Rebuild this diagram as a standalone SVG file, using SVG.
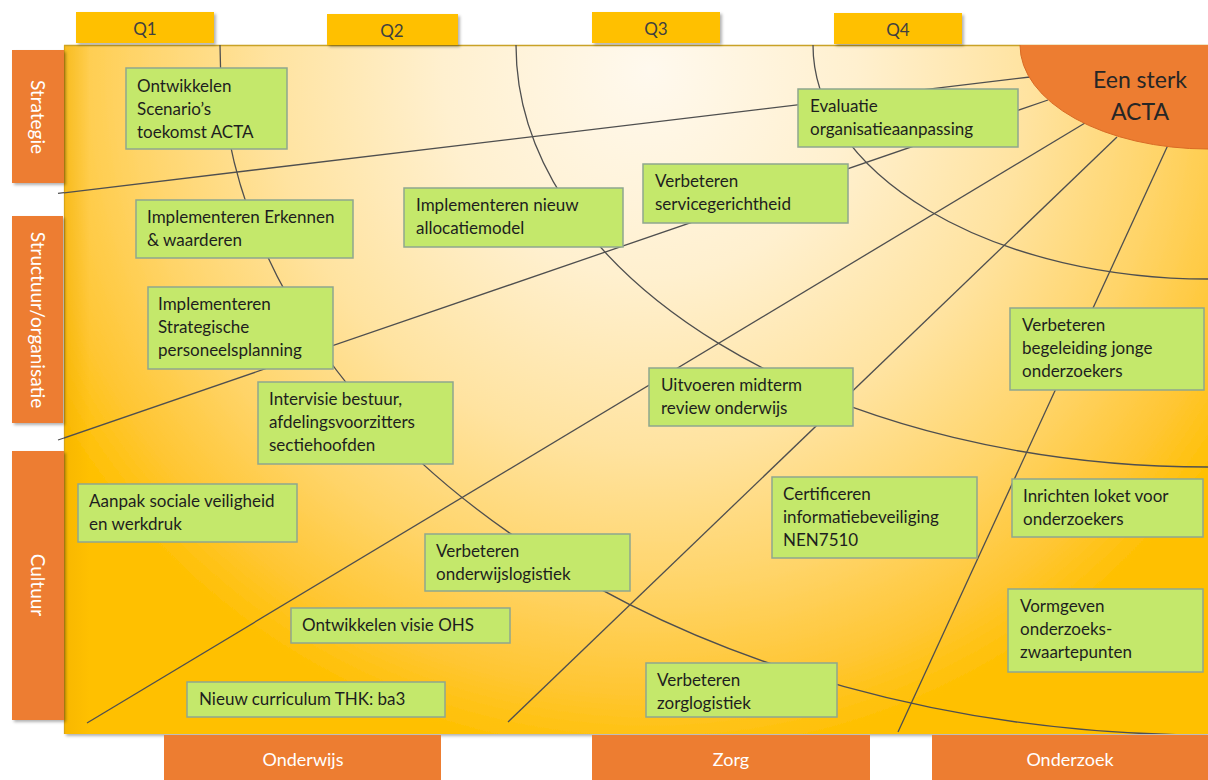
<svg xmlns="http://www.w3.org/2000/svg" width="1208" height="780" viewBox="0 0 1208 780">
<defs>
<radialGradient id="bg" gradientUnits="userSpaceOnUse" cx="650" cy="70" r="690">
<stop offset="0" stop-color="#FFF9EE"/>
<stop offset="0.3" stop-color="#FFF0CF"/>
<stop offset="0.55" stop-color="#FFE3A0"/>
<stop offset="0.75" stop-color="#FFD468"/>
<stop offset="0.9" stop-color="#FFC633"/>
<stop offset="1" stop-color="#FFC000"/>
</radialGradient>
<linearGradient id="leftEdge" x1="0" y1="0" x2="1" y2="0">
<stop offset="0" stop-color="#F2B000" stop-opacity="0.55"/>
<stop offset="1" stop-color="#F2B000" stop-opacity="0"/>
</linearGradient>
<clipPath id="panelClip"><rect x="64" y="45" width="1144" height="689"/></clipPath>
<filter id="sh" x="-10%" y="-10%" width="130%" height="140%">
<feDropShadow dx="2" dy="2" stdDeviation="1.5" flood-color="#000" flood-opacity="0.3"/>
</filter>
</defs>
<style>
.q{fill:#FFC000}
.qt{font-family:Lato,"Liberation Sans",sans-serif;font-size:17px;fill:#404040;text-anchor:middle}
.tab{fill:#ED7D31}
.tt{font-family:Lato,"Liberation Sans",sans-serif;font-size:19px;fill:#FFFFFF;text-anchor:middle}
.bt{font-family:Lato,"Liberation Sans",sans-serif;font-size:18px;fill:#FFFFFF;text-anchor:middle}
.box{fill:#C4E86B;stroke:#8FA68F;stroke-width:1.5}
.bx{font-family:Lato,"Liberation Sans",sans-serif;font-size:17px;fill:#1E1E1E}
.ln{fill:none;stroke:#4F4F4F;stroke-width:1.3}
.acta{font-family:Lato,"Liberation Sans",sans-serif;font-size:23px;fill:#262626;text-anchor:middle}
</style>

<!-- panel -->
<g id="panel">
<rect x="64" y="45" width="1144" height="689" fill="url(#bg)" filter="url(#sh)"/>
<rect x="64" y="45" width="26" height="689" fill="url(#leftEdge)"/>
<line x1="64" y1="45.5" x2="1208" y2="45.5" stroke="#C9A227" stroke-width="1.5"/>
<line x1="64.5" y1="45" x2="64.5" y2="734" stroke="#D9A514" stroke-width="1.2"/>
</g>

<!-- quarter tabs -->
<g id="q1"><rect class="q" x="76" y="12" width="138" height="31" filter="url(#sh)"/><text class="qt" x="145" y="35">Q1</text></g>
<g id="q2"><rect class="q" x="327" y="14" width="131" height="31" filter="url(#sh)"/><text class="qt" x="392" y="37">Q2</text></g>
<g id="q3"><rect class="q" x="592" y="12" width="128" height="31" filter="url(#sh)"/><text class="qt" x="656" y="35">Q3</text></g>
<g id="q4"><rect class="q" x="834" y="13" width="128" height="31" filter="url(#sh)"/><text class="qt" x="898" y="36">Q4</text></g>

<!-- left tabs -->
<g id="strategie"><rect class="tab" x="12" y="50" width="52" height="133" filter="url(#sh)"/><text class="tt" transform="translate(38,117) rotate(90)" dominant-baseline="central">Strategie</text></g>
<g id="structuur"><rect class="tab" x="12" y="216" width="51" height="207" filter="url(#sh)"/><text class="tt" transform="translate(38,320) rotate(90)" dominant-baseline="central">Structuur/organisatie</text></g>
<g id="cultuur"><rect class="tab" x="12" y="451" width="52" height="269" filter="url(#sh)"/><text class="tt" transform="translate(38,585) rotate(90)" dominant-baseline="central">Cultuur</text></g>

<!-- bottom tabs -->
<g id="onderwijs"><rect class="tab" x="164" y="735" width="277" height="45"/><text class="bt" x="303" y="766">Onderwijs</text></g>
<g id="zorg"><rect class="tab" x="592" y="735" width="278" height="45"/><text class="bt" x="731" y="766">Zorg</text></g>
<g id="onderzoek"><rect class="tab" x="932" y="735" width="276" height="45"/><text class="bt" x="1070" y="766">Onderzoek</text></g>

<!-- connectors -->
<g id="connectors" clip-path="url(#panelClip)">
<path class="ln" d="M 813 45 A 395 234 0 0 0 1208 279"/>
<path class="ln" d="M 516 45 A 692 422 0 0 0 1208 467"/>
<path class="ln" d="M 220 45 A 988 690 0 0 0 1208 735"/>
<line class="ln" x1="1030" y1="77" x2="58" y2="193.5"/>
<line class="ln" x1="1048" y1="100" x2="58" y2="440"/>
<line class="ln" x1="1085" y1="123" x2="87" y2="723"/>
<line class="ln" x1="1117" y1="137" x2="508" y2="722"/>
<line class="ln" x1="1168" y1="145" x2="898" y2="732"/>
</g>
<line class="ln" x1="64" y1="192.6" x2="58" y2="193.3"/>
<line class="ln" x1="64" y1="438" x2="58" y2="440"/>

<!-- ACTA -->
<g id="acta">
<ellipse cx="1208" cy="45" rx="188" ry="104" fill="#ED7D31" stroke="#D96A24" stroke-width="1" clip-path="url(#panelClip)"/>
<text class="acta" x="1140" y="88">Een sterk</text>
<text class="acta" x="1140" y="120">ACTA</text>
</g>

<!-- nodes -->
<g id="n-scenario"><rect class="box" x="126" y="68" width="161" height="81"/><text class="bx" x="137" y="92">Ontwikkelen</text><text class="bx" x="137" y="115">Scenario’s</text><text class="bx" x="137" y="138">toekomst ACTA</text></g>
<g id="n-erkennen"><rect class="box" x="136" y="200" width="217" height="58"/><text class="bx" x="147" y="223">Implementeren Erkennen</text><text class="bx" x="147" y="246">&amp; waarderen</text></g>
<g id="n-strategische"><rect class="box" x="148" y="287" width="185" height="82"/><text class="bx" x="158" y="310">Implementeren</text><text class="bx" x="158" y="333">Strategische</text><text class="bx" x="158" y="356">personeelsplanning</text></g>
<g id="n-intervisie"><rect class="box" x="258" y="382" width="195" height="82"/><text class="bx" x="269" y="405">Intervisie bestuur,</text><text class="bx" x="269" y="428">afdelingsvoorzitters</text><text class="bx" x="269" y="451">sectiehoofden</text></g>
<g id="n-aanpak"><rect class="box" x="78" y="484" width="219" height="58"/><text class="bx" x="89" y="507">Aanpak sociale veiligheid</text><text class="bx" x="89" y="530">en werkdruk</text></g>
<g id="n-ohs"><rect class="box" x="291" y="608" width="219" height="35"/><text class="bx" x="302" y="631">Ontwikkelen visie OHS</text></g>
<g id="n-curriculum"><rect class="box" x="187" y="682" width="258" height="35"/><text class="bx" x="199" y="705">Nieuw curriculum THK: ba3</text></g>
<g id="n-allocatie"><rect class="box" x="404" y="188" width="219" height="59"/><text class="bx" x="416" y="211">Implementeren nieuw</text><text class="bx" x="416" y="234">allocatiemodel</text></g>
<g id="n-service"><rect class="box" x="643" y="164" width="205" height="59"/><text class="bx" x="655" y="187">Verbeteren</text><text class="bx" x="655" y="210">servicegerichtheid</text></g>
<g id="n-evaluatie"><rect class="box" x="798" y="89" width="220" height="58"/><text class="bx" x="810" y="112">Evaluatie</text><text class="bx" x="810" y="135">organisatieaanpassing</text></g>
<g id="n-midterm"><rect class="box" x="649" y="368" width="204" height="58"/><text class="bx" x="661" y="391">Uitvoeren midterm</text><text class="bx" x="661" y="414">review onderwijs</text></g>
<g id="n-begeleiding"><rect class="box" x="1010" y="308" width="194" height="82"/><text class="bx" x="1022" y="331">Verbeteren</text><text class="bx" x="1022" y="354">begeleiding jonge</text><text class="bx" x="1022" y="377">onderzoekers</text></g>
<g id="n-certificeren"><rect class="box" x="772" y="477" width="205" height="81"/><text class="bx" x="783" y="500">Certificeren</text><text class="bx" x="783" y="523">informatiebeveiliging</text><text class="bx" x="783" y="546">NEN7510</text></g>
<g id="n-loket"><rect class="box" x="1012" y="479" width="191" height="58"/><text class="bx" x="1023" y="502">Inrichten loket voor</text><text class="bx" x="1023" y="525">onderzoekers</text></g>
<g id="n-vormgeven"><rect class="box" x="1008" y="589" width="195" height="83"/><text class="bx" x="1020" y="612">Vormgeven</text><text class="bx" x="1020" y="635">onderzoeks-</text><text class="bx" x="1020" y="658">zwaartepunten</text></g>
<g id="n-onderwijslogistiek"><rect class="box" x="425" y="534" width="205" height="57"/><text class="bx" x="436" y="557">Verbeteren</text><text class="bx" x="436" y="580">onderwijslogistiek</text></g>
<g id="n-zorglogistiek"><rect class="box" x="646" y="663" width="191" height="54"/><text class="bx" x="657" y="686">Verbeteren</text><text class="bx" x="657" y="709">zorglogistiek</text></g>
</svg>
